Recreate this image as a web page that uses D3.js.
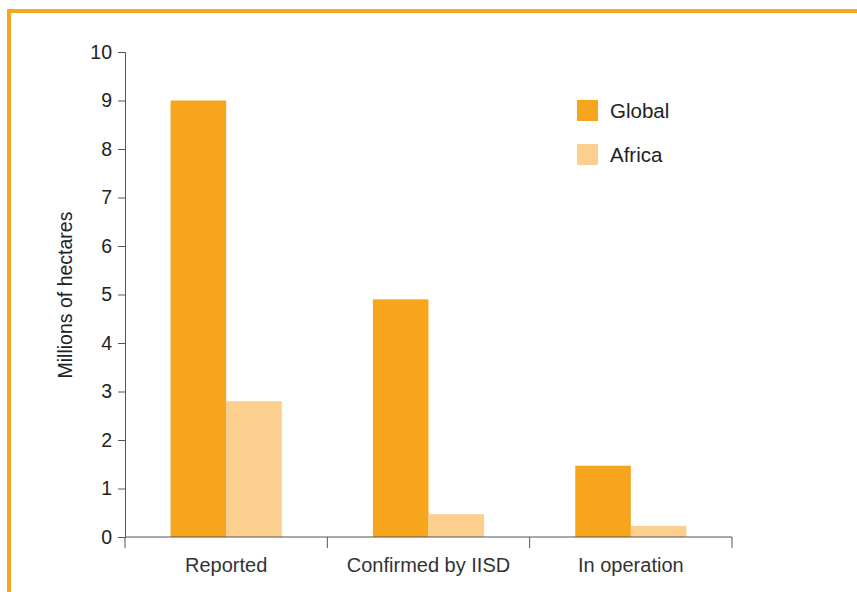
<!DOCTYPE html>
<html>
<head>
<meta charset="utf-8">
<script src="https://cdn.jsdelivr.net/npm/d3@7"></script>
<style>
  body { margin: 0; background: #fff; }
  svg text { font-family: "Liberation Sans", Arial, sans-serif; fill: #222; }
</style>
</head>
<body>
<svg class="main" width="857" height="592"></svg>
<script>
// данные
const categories = ["Reported", "Confirmed by IISD", "In operation"];
const seriesNames = ["Global", "Africa"];
const globalValues = [9.0, 4.9, 1.47];
const africaValues = [2.8, 0.47, 0.23];
const yTicks = [0, 1, 2, 3, 4, 5, 6, 7, 8, 9, 10];
const colors = ["#F7A51D", "#FCCF8F"];

const svg = d3.select("svg.main");

// рамка сверху и слева
svg.append("path")
    .attr("d", "M9,592 V11 H857")
    .attr("stroke", "#F7A51D")
    .attr("stroke-width", 4)
    .attr("fill", "none");

const x0 = d3.scaleBand().domain(categories).range([125, 732]);
const x1 = d3.scaleBand().domain(seriesNames)
    .range([0, x0.bandwidth()]).paddingInner(0).paddingOuter(0.82);
const y = d3.scaleLinear().domain([0, 10]).range([537, 52]);

const table = categories.map((c, i) => ({cat: c, values: [globalValues[i], africaValues[i]]}));

svg.append("g").selectAll("g")
    .data(table)
    .join("g")
    .attr("transform", d => `translate(${x0(d.cat)},0)`)
    .selectAll("rect")
    .data(d => d.values.map((v, j) => ({name: seriesNames[j], v: v, j: j})))
    .join("rect")
    .attr("x", d => x1(d.name))
    .attr("width", x1.bandwidth())
    .attr("y", d => y(d.v))
    .attr("height", d => y(0) - y(d.v))
    .attr("fill", d => colors[d.j]);

// ось Y
const yAxis = svg.append("g")
    .attr("transform", "translate(125,0)")
    .call(d3.axisLeft(y).tickValues(yTicks).tickSize(7).tickPadding(6));
yAxis.selectAll("text").style("font-size", "19.5px");
yAxis.select(".domain").attr("stroke", "#555");
yAxis.selectAll(".tick line").attr("stroke", "#555");

// ось X: засечки на границах категорий
const xAxis = svg.append("g").attr("transform", "translate(0,537)");
xAxis.append("line")
    .attr("x1", 125).attr("x2", 732)
    .attr("stroke", "#555");
const bounds = categories.map(c => x0(c)).concat([x0.range()[1]]);
xAxis.selectAll("line.tick")
    .data(bounds)
    .join("line")
    .attr("class", "tick")
    .attr("x1", d => d).attr("x2", d => d)
    .attr("y1", 0).attr("y2", 11)
    .attr("stroke", "#555");
xAxis.selectAll("text")
    .data(categories)
    .join("text")
    .attr("x", d => x0(d) + x0.bandwidth() / 2)
    .attr("y", 35)
    .attr("text-anchor", "middle")
    .style("font-size", "20px")
    .style("fill", "#333")
    .text(d => d);

// подпись оси Y
svg.append("text")
    .attr("transform", "translate(72,295) rotate(-90)")
    .attr("text-anchor", "middle")
    .style("font-size", "19.5px")
    .text("Millions of hectares");

// легенда
const legend = svg.append("g").selectAll("g")
    .data(seriesNames)
    .join("g")
    .attr("transform", (d, i) => `translate(577,${100 + i * 44})`);
legend.append("rect")
    .attr("width", 21).attr("height", 21)
    .attr("fill", (d, i) => colors[i]);
legend.append("text")
    .attr("x", 33).attr("y", 18)
    .style("font-size", "20.5px")
    .text(d => d);
</script>
</body>
</html>
